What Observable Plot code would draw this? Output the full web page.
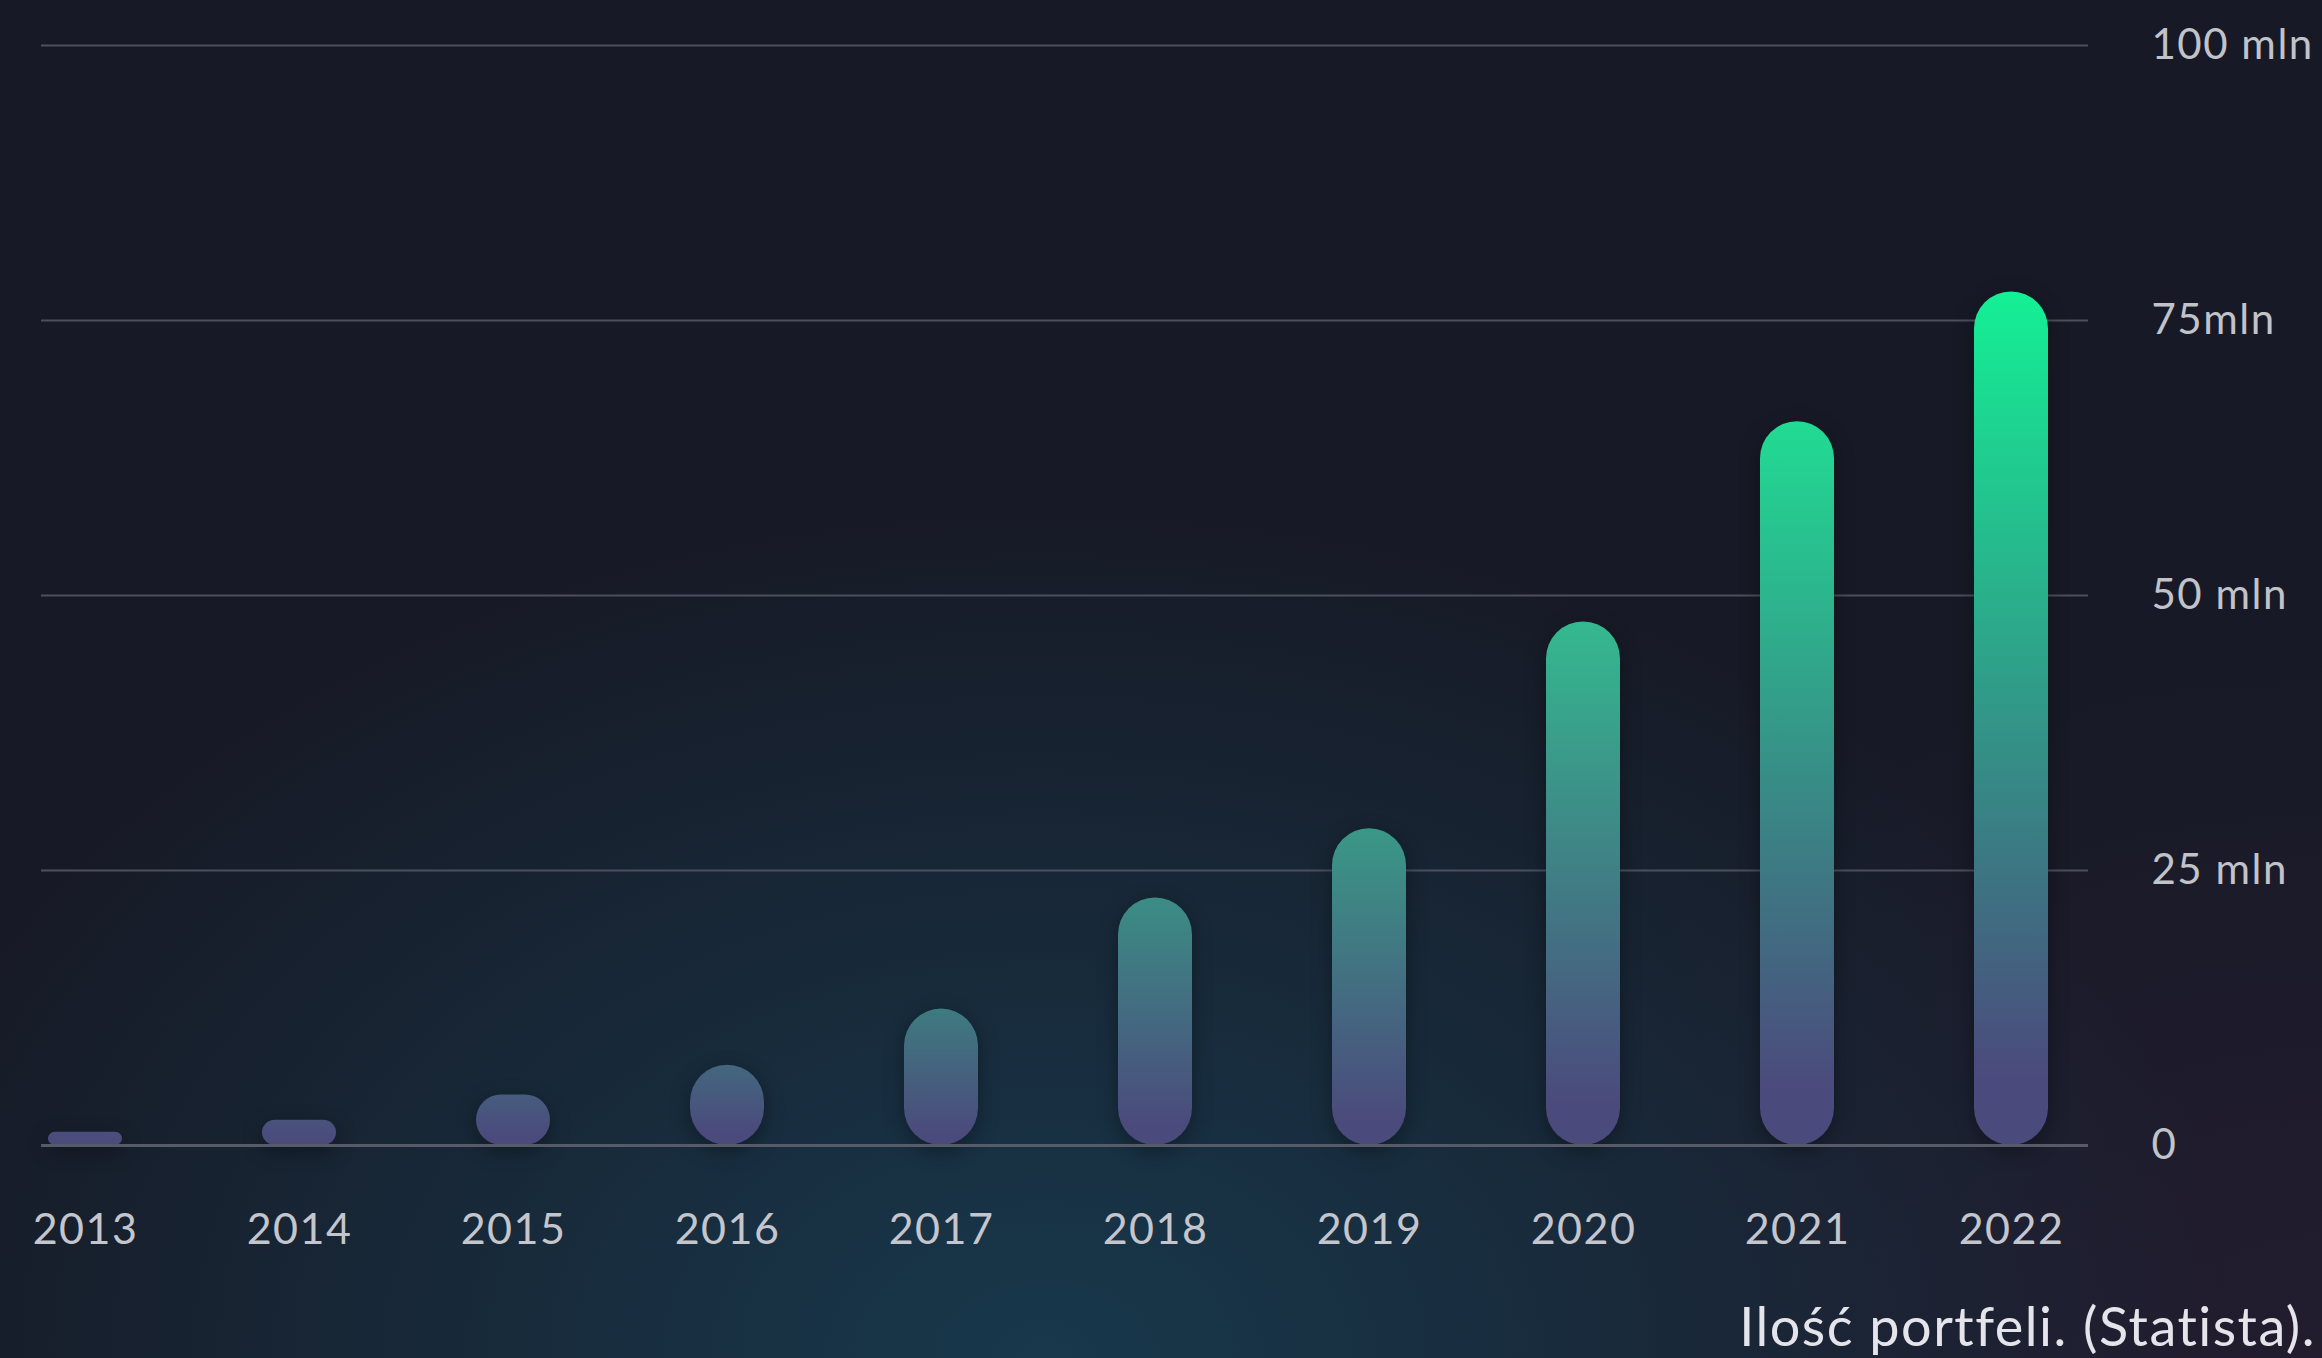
<!DOCTYPE html>
<html>
<head>
<meta charset="utf-8">
<script src="https://cdn.jsdelivr.net/npm/d3@7"></script>
<script src="https://cdn.jsdelivr.net/npm/@observablehq/plot@0.6"></script>
<style>
  html, body { margin: 0; padding: 0; }
  body {
    width: 2322px; height: 1358px; overflow: hidden;
    background:
      radial-gradient(ellipse 1200px 850px at 45% 100%, rgba(24,56,76,1) 0%, rgba(24,56,76,0.55) 45%, rgba(24,56,76,0) 100%),
      radial-gradient(ellipse 900px 700px at 100% 100%, rgba(36,28,48,0.9) 0%, rgba(36,28,48,0) 100%),
      #171a26;
    font-family: Lato, "Noto Sans", sans-serif;
  }
  #wrap { position: relative; width: 2322px; height: 1358px; }
  #chart svg { display: block; }
  #chart svg text { letter-spacing: 1.5px; }
  #caption {
    position: absolute; right: 6px; top: 1299px;
    font-size: 54px; line-height: 54px; color: #e4e4ea; letter-spacing: 1.5px;
    font-family: Lato, "Noto Sans", sans-serif; white-space: nowrap;
  }
</style>
</head>
<body>
<div id="wrap">
  <div id="chart"></div>
  <div id="caption">Ilość portfeli. (Statista).</div>
</div>
<script>
// Data
const years = ["2013","2014","2015","2016","2017","2018","2019","2020","2021","2022"];
const wallets = [1.2, 2.3, 4.6, 7.3, 12.4, 22.5, 28.8, 47.6, 65.8, 77.6]; // millions
const yTicks = [0, 25, 50, 75, 100];
const yTickLabels = ["0", "25 mln", "50 mln", "75mln", "100 mln"];

const data = years.map((y, i) => ({year: y, value: wallets[i], grad: `url(#barGrad${i})`}));

// top colour of each bar depends on its height
const topColor = d3.scaleLinear()
  .domain([0, 12, 47, 78])
  .range(["#4b4a7c", "#3e7a80", "#35b88f", "#14f195"])
  .interpolate(d3.interpolateRgb);

const plot = Plot.plot({
  width: 2322,
  height: 1290,
  marginTop: 45,
  marginBottom: 145,
  marginLeft: 41,
  marginRight: 234,
  style: {background: "transparent", overflow: "visible", fontFamily: "Lato, 'Noto Sans', sans-serif"},
  x: {domain: years, range: [-26, 2121], paddingInner: 0.655, paddingOuter: 0.3275, label: null},
  y: {domain: [0, 100], label: null},
  color: {type: "identity"},
  marks: [
    Plot.ruleY(yTicks.filter(t => t !== 0), {stroke: "#4c4f5c", strokeWidth: 2}),
    Plot.barY(data, {x: "year", y: "value", fill: "grad", inset: 0}),
    Plot.ruleY([0], {stroke: "#575b68", strokeWidth: 3}),
    Plot.axisX({tickSize: 0, tickPadding: 68, fontSize: 43, color: "#c5c6cd"}),
    Plot.axisY({anchor: "right", ticks: yTicks, tickSize: 0, tickPadding: 63, fontSize: 42,
      color: "#c2c3ca", textAnchor: "start",
      tickFormat: d => yTickLabels[yTicks.indexOf(d)]})
  ]
});

document.getElementById("chart").appendChild(plot);

// gradients for bars
const svg = d3.select(plot);
const defs = svg.insert("defs", ":first-child");
wallets.forEach((v, i) => {
  const g = defs.append("linearGradient")
    .attr("id", `barGrad${i}`)
    .attr("x1", 0).attr("y1", 1).attr("x2", 0).attr("y2", 0);
  g.append("stop").attr("offset", 0).attr("stop-color", "#4b4a7c");
  g.append("stop").attr("offset", v < 10 ? 0.15 : 0.08).attr("stop-color", "#4b4a7c");
  g.append("stop").attr("offset", 1).attr("stop-color", topColor(v));
});

// pill-shaped bars (CSS-like border radius clamping)
svg.selectAll("g[aria-label='bar'] rect").each(function() {
  const r = d3.select(this);
  const w = +r.attr("width"), h = +r.attr("height");
  const rad = Math.min(w / 2, h / 2);
  r.attr("rx", rad).attr("ry", rad);
});
svg.select("g[aria-label='bar']").style("filter", "drop-shadow(0px 6px 10px rgba(0,0,0,0.35))");
</script>
</body>
</html>
